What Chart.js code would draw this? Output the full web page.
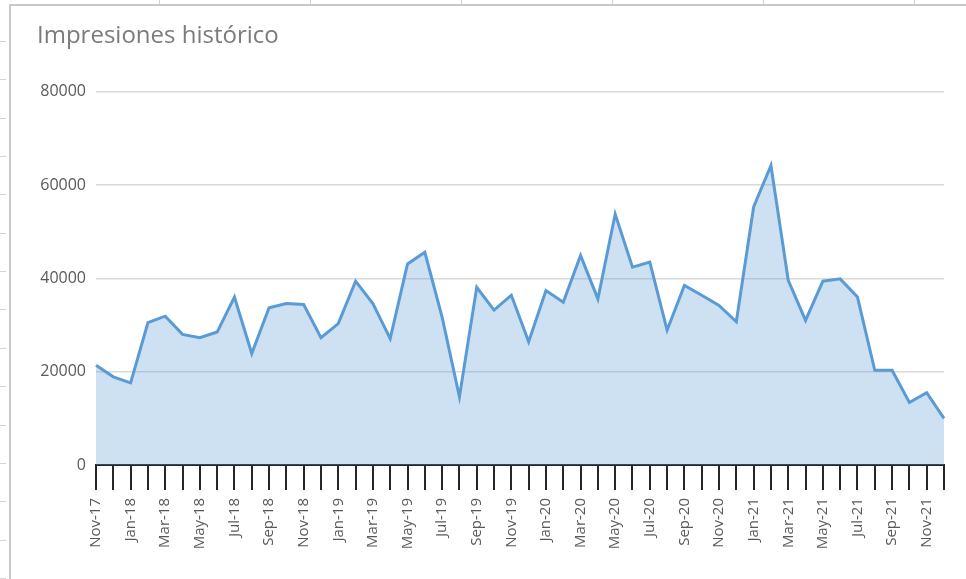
<!DOCTYPE html>
<html>
<head>
<meta charset="utf-8">
<script src="https://cdn.jsdelivr.net/npm/chart.js@4.4.1/dist/chart.umd.min.js"></script>
<style>
  html, body { margin: 0; padding: 0; background: #fff; }
  #wrap { position: relative; width: 966px; height: 579px; overflow: hidden; }
  #chart { position: absolute; left: 0; top: 0; }
  .frame-left { position: absolute; left: 9px; top: 4px; width: 2px; height: 575px; background: #c8c8c8; }
  .frame-top { position: absolute; left: 9px; top: 4px; width: 957px; height: 2px; background: #c8c8c8; }
  .row-mark { position: absolute; left: 0; width: 6px; height: 1px; background: #d4d4d4; }
  .col-mark { position: absolute; top: 0; width: 1px; height: 4px; background: #d4d4d4; }
</style>
</head>
<body>
<div id="wrap">
  <canvas id="chart" width="966" height="579"></canvas>
  <div class="frame-left"></div>
  <div class="frame-top"></div>
</div>
<script>
// months, Nov-17 .. Dec-21
const months = [
  'Nov-17', 'Dec-17',
  'Jan-18', 'Feb-18', 'Mar-18', 'Apr-18', 'May-18', 'Jun-18', 'Jul-18', 'Aug-18', 'Sep-18', 'Oct-18', 'Nov-18', 'Dec-18',
  'Jan-19', 'Feb-19', 'Mar-19', 'Apr-19', 'May-19', 'Jun-19', 'Jul-19', 'Aug-19', 'Sep-19', 'Oct-19', 'Nov-19', 'Dec-19',
  'Jan-20', 'Feb-20', 'Mar-20', 'Apr-20', 'May-20', 'Jun-20', 'Jul-20', 'Aug-20', 'Sep-20', 'Oct-20', 'Nov-20', 'Dec-20',
  'Jan-21', 'Feb-21', 'Mar-21', 'Apr-21', 'May-21', 'Jun-21', 'Jul-21', 'Aug-21', 'Sep-21', 'Oct-21', 'Nov-21', 'Dec-21'
];

const impresiones = [
  21400, 18900,
  17600, 30500, 31900, 28000, 27300, 28500, 36000, 23900, 33700, 34600, 34400, 27300,
  30300, 39400, 34600, 27100, 43100, 45600, 31700, 14600, 38100, 33200, 36400, 26400,
  37400, 34900, 44900, 35600, 53800, 42400, 43500, 28900, 38500, 36400, 34200, 30700,
  55300, 64200, 39600, 31000, 39400, 39900, 36000, 20300, 20300, 13400, 15500, 10000
];

const yMax = 80000;
const yStep = 20000;

// spreadsheet row / column marks around the chart frame
const wrap = document.getElementById('wrap');
for (let y = 41; y < 579; y += 38.35) {
  const d = document.createElement('div');
  d.className = 'row-mark';
  d.style.top = Math.round(y) + 'px';
  wrap.appendChild(d);
}
for (let x = 159; x < 966; x += 151) {
  const d = document.createElement('div');
  d.className = 'col-mark';
  d.style.left = x + 'px';
  wrap.appendChild(d);
}

const labelColor = '#595959';

new Chart(document.getElementById('chart').getContext('2d'), {
  type: 'line',
  data: {
    labels: months,
    datasets: [{
      label: 'Impresiones',
      data: impresiones,
      borderColor: '#5b9bd5',
      backgroundColor: 'rgba(91, 155, 213, 0.3)',
      borderWidth: 3,
      pointRadius: 0,
      tension: 0,
      fill: 'origin'
    }]
  },
  options: {
    responsive: false,
    animation: false,
    layout: { padding: { left: 37, right: 22, top: 0, bottom: 0 } },
    plugins: {
      legend: { display: false },
      tooltip: { enabled: false },
      title: {
        display: true,
        text: 'Impresiones histórico',
        align: 'start',
        color: '#7b7b7b',
        font: { family: "'Open Sans', sans-serif", size: 24, weight: 'normal' },
        padding: { top: 22, bottom: 41 }
      }
    },
    scales: {
      x: {
        offset: false,
        grid: {
          display: true,
          drawOnChartArea: false,
          drawTicks: true,
          tickLength: 25,
          color: '#262626',
          lineWidth: 2
        },
        border: { display: true, color: '#262626', width: 2 },
        ticks: {
          autoSkip: false,
          maxRotation: 90,
          minRotation: 90,
          padding: 8,
          color: labelColor,
          font: { family: "'Open Sans', sans-serif", size: 15 },
          callback: function (value, index) {
            return index % 2 === 0 ? this.getLabelForValue(value) : '';
          }
        },
        afterFit: (scale) => {
          scale.height = 114;
          scale.paddingLeft = 0;
          scale.paddingRight = 0;
        }
      },
      y: {
        min: 0,
        max: yMax,
        grid: { color: '#d9d9d9', lineWidth: 1.5, drawTicks: false },
        border: { display: false },
        ticks: {
          stepSize: yStep,
          padding: 10,
          color: labelColor,
          font: { family: "'Open Sans', sans-serif", size: 16 },
          callback: (value) => String(value)
        },
        afterFit: (scale) => { scale.width = 59; }
      }
    }
  }
});
</script>
</body>
</html>
